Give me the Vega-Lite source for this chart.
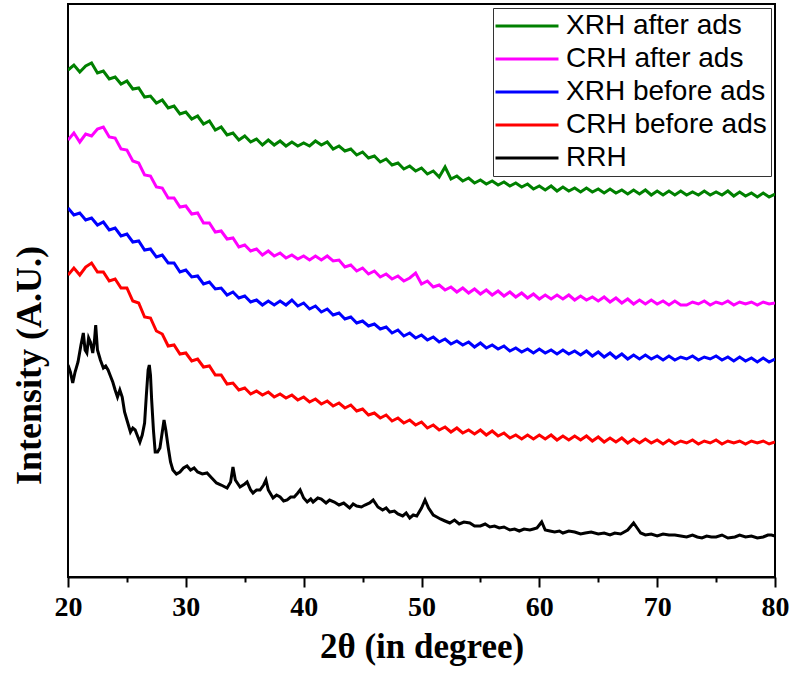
{
  "$schema": "https://vega.github.io/schema/vega-lite/v6.json",
  "width": 707,
  "height": 573,
  "autosize": "none",
  "padding": {"left": 68, "top": 4, "right": 17, "bottom": 97},
  "background": "white",
  "config": {
    "view": {"stroke": "black", "strokeWidth": 2},
    "legend": {"labelFont": "Liberation Sans", "labelFontSize": 28, "labelColor": "black", "labelLimit": 400}
  },
  "resolve": {"axis": {"x": "independent"}},
  "layer": [
    {
      "data": {"values": [
        {"x":20,"g":507,"m":437,"b":369,"r":302},{"x":20.5,"g":512,"m":444,"b":362,"r":309},{"x":21,"g":505,"m":435,"b":364,"r":302},{"x":21.5,"g":511,"m":443,"b":357,"r":310},{"x":22,"g":514,"m":441,"b":359,"r":314},{"x":22.5,"g":504,"m":448,"b":352,"r":305},{"x":23,"g":506,"m":450,"b":355,"r":305},{"x":23.5,"g":498,"m":440,"b":347,"r":296},{"x":24,"g":500,"m":439,"b":349,"r":298},{"x":24.5,"g":493,"m":428,"b":341,"r":289},
        {"x":25,"g":496,"m":427,"b":343,"r":289},{"x":25.5,"g":488,"m":416,"b":335,"r":276},{"x":26,"g":489,"m":414,"b":336,"r":274},{"x":26.5,"g":480,"m":402,"b":327,"r":260},{"x":27,"g":481,"m":401,"b":328,"r":259},{"x":27.5,"g":474,"m":390,"b":320,"r":246},{"x":28,"g":477,"m":389,"b":322,"r":243},{"x":28.5,"g":469,"m":379,"b":314,"r":231},{"x":29,"g":471,"m":379,"b":314,"r":232},{"x":29.5,"g":463,"m":370,"b":305,"r":223},
        {"x":30,"g":465,"m":371,"b":307,"r":224},{"x":30.5,"g":458,"m":363,"b":300,"r":216},{"x":31,"g":461,"m":364,"b":301,"r":218},{"x":31.5,"g":453,"m":354,"b":293,"r":210},{"x":32,"g":456,"m":354,"b":295,"r":211},{"x":32.5,"g":447,"m":345,"b":288,"r":202},{"x":33,"g":450,"m":346,"b":289,"r":202},{"x":33.5,"g":442,"m":338,"b":282,"r":193},{"x":34,"g":444,"m":339,"b":285,"r":194},{"x":34.5,"g":437,"m":330,"b":279,"r":187},
        {"x":35,"g":441,"m":332,"b":281,"r":189},{"x":35.5,"g":435,"m":326,"b":275,"r":183},{"x":36,"g":438,"m":328,"b":277,"r":186},{"x":36.5,"g":432,"m":322,"b":272,"r":182},{"x":37,"g":437,"m":326,"b":276,"r":185},{"x":37.5,"g":432,"m":321,"b":272,"r":180},{"x":38,"g":436,"m":324,"b":276,"r":183},{"x":38.5,"g":431,"m":319,"b":272,"r":179},{"x":39,"g":435,"m":322,"b":277,"r":182},{"x":39.5,"g":431,"m":318,"b":271,"r":177},
        {"x":40,"g":434,"m":321,"b":274,"r":180},{"x":40.5,"g":431,"m":317,"b":268,"r":175},{"x":41,"g":436,"m":321,"b":271,"r":178},{"x":41.5,"g":432,"m":317,"b":265,"r":173},{"x":42,"g":435,"m":321,"b":268,"r":176},{"x":42.5,"g":428,"m":316,"b":262,"r":171},{"x":43,"g":431,"m":317,"b":264,"r":174},{"x":43.5,"g":426,"m":310,"b":258,"r":169},{"x":44,"g":428,"m":312,"b":260,"r":172},{"x":44.5,"g":422,"m":306,"b":254,"r":166},
        {"x":45,"g":425,"m":309,"b":256,"r":168},{"x":45.5,"g":419,"m":303,"b":251,"r":162},{"x":46,"g":421,"m":306,"b":253,"r":164},{"x":46.5,"g":415,"m":300,"b":248,"r":159},{"x":47,"g":418,"m":303,"b":250,"r":162},{"x":47.5,"g":412,"m":298,"b":244,"r":156},{"x":48,"g":414,"m":301,"b":247,"r":159},{"x":48.5,"g":408,"m":296,"b":241,"r":154},{"x":49,"g":411,"m":299,"b":244,"r":157},{"x":49.5,"g":406,"m":304,"b":239,"r":152},
        {"x":50,"g":409,"m":293,"b":242,"r":155},{"x":50.5,"g":403,"m":296,"b":237,"r":149},{"x":51,"g":406,"m":290,"b":240,"r":152},{"x":51.5,"g":400,"m":292,"b":235,"r":147},{"x":52,"g":410,"m":287,"b":238,"r":150},{"x":52.5,"g":398,"m":290,"b":233,"r":145},{"x":53,"g":401,"m":285,"b":236,"r":149},{"x":53.5,"g":396,"m":289,"b":232,"r":144},{"x":54,"g":399,"m":284,"b":235,"r":147},{"x":54.5,"g":394,"m":288,"b":230,"r":143},
        {"x":55,"g":397,"m":283,"b":234,"r":147},{"x":55.5,"g":393,"m":287,"b":229,"r":142},{"x":56,"g":396,"m":282,"b":232,"r":146},{"x":56.5,"g":392,"m":286,"b":228,"r":141},{"x":57,"g":395,"m":281,"b":231,"r":144},{"x":57.5,"g":391,"m":285,"b":226,"r":139},{"x":58,"g":394,"m":280,"b":229,"r":142},{"x":58.5,"g":390,"m":284,"b":225,"r":138},{"x":59,"g":393,"m":279,"b":228,"r":142},{"x":59.5,"g":388,"m":283,"b":224,"r":138},
        {"x":60,"g":391,"m":278,"b":228,"r":142},{"x":60.5,"g":387,"m":282,"b":224,"r":138},{"x":61,"g":391,"m":278,"b":227,"r":142},{"x":61.5,"g":386,"m":282,"b":223,"r":137},{"x":62,"g":390,"m":278,"b":227,"r":141},{"x":62.5,"g":386,"m":282,"b":223,"r":137},{"x":63,"g":389,"m":277,"b":226,"r":141},{"x":63.5,"g":385,"m":281,"b":222,"r":137},{"x":64,"g":389,"m":277,"b":226,"r":141},{"x":64.5,"g":385,"m":280,"b":221,"r":136},
        {"x":65,"g":388,"m":276,"b":225,"r":140},{"x":65.5,"g":384,"m":280,"b":220,"r":135},{"x":66,"g":388,"m":275,"b":224,"r":139},{"x":66.5,"g":384,"m":279,"b":219,"r":135},{"x":67,"g":387,"m":274,"b":223,"r":139},{"x":67.5,"g":383,"m":278,"b":218,"r":134},{"x":68,"g":387,"m":273,"b":222,"r":138},{"x":68.5,"g":383,"m":277,"b":218,"r":134},{"x":69,"g":387,"m":273,"b":222,"r":138},{"x":69.5,"g":382,"m":277,"b":218,"r":134},
        {"x":70,"g":386,"m":273,"b":221,"r":137},{"x":70.5,"g":382,"m":276,"b":217,"r":133},{"x":71,"g":386,"m":272,"b":221,"r":137},{"x":71.5,"g":382,"m":276,"b":217,"r":133},{"x":72,"g":386,"m":272,"b":220,"r":136},{"x":72.5,"g":382,"m":272,"b":218,"r":134},{"x":73,"g":385,"m":275,"b":221,"r":137},{"x":73.5,"g":382,"m":273,"b":217,"r":133},{"x":74,"g":386,"m":276,"b":220,"r":136},{"x":74.5,"g":382,"m":272,"b":218,"r":134},
        {"x":75,"g":385,"m":275,"b":221,"r":137},{"x":75.5,"g":382,"m":273,"b":217,"r":133},{"x":76,"g":386,"m":276,"b":220,"r":136},{"x":76.5,"g":381,"m":272,"b":216,"r":134},{"x":77,"g":385,"m":275,"b":220,"r":136},{"x":77.5,"g":381,"m":273,"b":216,"r":133},{"x":78,"g":384,"m":275,"b":219,"r":136},{"x":78.5,"g":380,"m":272,"b":215,"r":134},{"x":79,"g":384,"m":275,"b":219,"r":136},{"x":79.5,"g":380,"m":273,"b":215,"r":133},
        {"x":80,"g":383,"m":274,"b":218,"r":135},
        {"x":20,"k":212},{"x":20.2,"k":205},{"x":20.4,"k":194},{"x":20.6,"k":205},{"x":20.85,"k":215},{"x":21.1,"k":232},{"x":21.3,"k":244},{"x":21.45,"k":227},{"x":21.6,"k":224},{"x":21.75,"k":239},{"x":21.9,"k":235},{"x":22.1,"k":224},{"x":22.25,"k":237},{"x":22.35,"k":252},{"x":22.5,"k":227},{"x":22.75,"k":217},{"x":23,"k":209},{"x":23.2,"k":211},{"x":23.4,"k":207},{"x":23.6,"k":201},{"x":23.8,"k":195},{"x":24,"k":187},{"x":24.2,"k":180},{"x":24.4,"k":187},{"x":24.6,"k":180},{"x":24.8,"k":165},{"x":25,"k":157},{"x":25.3,"k":145},{"x":25.5,"k":149},{"x":25.7,"k":147},{"x":25.9,"k":141},{"x":26.1,"k":135},{"x":26.3,"k":142},{"x":26.5,"k":154},{"x":26.65,"k":182},{"x":26.8,"k":207},{"x":26.9,"k":212},{"x":27,"k":202},{"x":27.1,"k":177},{"x":27.25,"k":147},{"x":27.4,"k":125},{"x":27.6,"k":125},{"x":27.8,"k":129},{"x":28,"k":145},{"x":28.15,"k":157},{"x":28.3,"k":147},{"x":28.5,"k":130},{"x":28.7,"k":115},{"x":28.9,"k":107},{"x":29.2,"k":103},{"x":29.5,"k":105},{"x":29.8,"k":109},{"x":30.1,"k":111},{"x":30.4,"k":107},{"x":30.7,"k":109},{"x":31,"k":105},{"x":31.4,"k":103},{"x":31.8,"k":104},{"x":32.2,"k":99},{"x":32.6,"k":94},{"x":33,"k":92},{"x":33.5,"k":89},{"x":33.8,"k":95},{"x":34,"k":110},{"x":34.2,"k":97},{"x":34.6,"k":90},{"x":35,"k":93},{"x":35.2,"k":95},{"x":35.5,"k":87},{"x":35.7,"k":84},{"x":36,"k":87},{"x":36.3,"k":87},{"x":36.6,"k":92},{"x":36.8,"k":97},{"x":37,"k":87},{"x":37.4,"k":79},{"x":37.7,"k":82},{"x":38,"k":80},{"x":38.3,"k":76},{"x":38.6,"k":77},{"x":38.9,"k":80},{"x":39.2,"k":80},{"x":39.5,"k":84},{"x":39.7,"k":87},{"x":40,"k":79},{"x":40.3,"k":75},{"x":40.6,"k":78},{"x":40.8,"k":75},{"x":41.2,"k":79},{"x":41.5,"k":78},{"x":41.9,"k":74},{"x":42.2,"k":77},{"x":42.6,"k":75},{"x":43,"k":72},{"x":43.4,"k":74},{"x":43.9,"k":69},{"x":44.2,"k":73},{"x":44.5,"k":71},{"x":44.9,"k":70},{"x":45.2,"k":72},{"x":45.6,"k":74},{"x":45.9,"k":77},{"x":46.3,"k":70},{"x":46.7,"k":67},{"x":47,"k":69},{"x":47.3,"k":65},{"x":47.7,"k":66},{"x":48,"k":63},{"x":48.4,"k":61},{"x":48.7,"k":64},{"x":49,"k":59},{"x":49.3,"k":62},{"x":49.6,"k":61},{"x":50,"k":69},{"x":50.3,"k":77},{"x":50.6,"k":69},{"x":51,"k":62},{"x":51.3,"k":60},{"x":51.6,"k":58},{"x":52,"k":56},{"x":52.4,"k":54},{"x":52.8,"k":57},{"x":53.2,"k":53},{"x":53.6,"k":55},{"x":54.1,"k":54},{"x":54.5,"k":51},{"x":55,"k":51},{"x":55.4,"k":53},{"x":55.8,"k":50},{"x":56.2,"k":51},{"x":56.6,"k":49},{"x":57,"k":50},{"x":57.5,"k":47},{"x":57.9,"k":48},{"x":58.3,"k":46},{"x":58.7,"k":48},{"x":59.2,"k":47},{"x":59.5,"k":48},{"x":59.8,"k":49},{"x":60.2,"k":55},{"x":60.5,"k":47},{"x":60.9,"k":46},{"x":61.3,"k":45},{"x":61.7,"k":46},{"x":62,"k":44},{"x":62.5,"k":46},{"x":63,"k":45},{"x":63.5,"k":43},{"x":63.9,"k":44},{"x":64.4,"k":45},{"x":65,"k":43},{"x":65.5,"k":44},{"x":66,"k":42},{"x":66.4,"k":44},{"x":66.9,"k":43},{"x":67.5,"k":47},{"x":68,"k":54},{"x":68.3,"k":49},{"x":68.6,"k":44},{"x":69,"k":42},{"x":69.5,"k":43},{"x":70,"k":41},{"x":70.5,"k":43},{"x":71,"k":42},{"x":71.5,"k":42},{"x":72,"k":41},{"x":72.5,"k":40},{"x":73,"k":42},{"x":73.4,"k":40},{"x":73.8,"k":39},{"x":74.2,"k":41},{"x":74.6,"k":40},{"x":75,"k":40},{"x":75.5,"k":42},{"x":76,"k":39},{"x":76.6,"k":40},{"x":77,"k":42},{"x":77.5,"k":40},{"x":78,"k":41},{"x":78.5,"k":39},{"x":79,"k":40},{"x":79.4,"k":42},{"x":79.7,"k":42},{"x":80,"k":41}
      ]},
      "transform": [
        {"fold": ["g", "m", "b", "r", "k"], "as": ["s", "v"]},
        {"filter": "isValid(datum.v)"}
      ],
      "mark": {"type": "line", "strokeWidth": 3, "clip": true},
      "encoding": {
        "x": {
          "field": "x", "type": "quantitative",
          "scale": {"domain": [20, 80], "nice": false, "zero": false},
          "axis": {
            "orient": "bottom",
            "values": [20, 30, 40, 50, 60, 70, 80],
            "title": "2θ (in degree)",
            "grid": false,
            "labelFont": "Liberation Serif", "labelFontWeight": "bold", "labelFontSize": 28, "labelColor": "black",
            "labelPadding": 6, "labelFlush": false,
            "tickColor": "black", "tickWidth": 2, "tickSize": 10,
            "domainColor": "black", "domainWidth": 2,
            "titleFont": "Liberation Serif", "titleFontWeight": "bold", "titleFontSize": 35, "titleColor": "black",
            "titlePadding": 8
          }
        },
        "y": {
          "field": "v", "type": "quantitative",
          "scale": {"domain": [0, 573], "nice": false, "zero": false},
          "axis": {
            "title": "Intensity (A.U.)",
            "labels": false, "ticks": false, "domain": false, "grid": false,
            "titleFont": "Liberation Serif", "titleFontWeight": "bold", "titleFontSize": 36, "titleColor": "black",
            "titlePadding": 20, "titleY": 361
          }
        },
        "color": {
          "field": "s", "type": "nominal",
          "scale": {"domain": ["g", "m", "b", "r", "k"], "range": ["#008000", "#ff00ff", "#0000ff", "#ff0000", "#000000"]},
          "legend": {
            "title": null,
            "orient": "top-right",
            "offset": 4,
            "labelExpr": "{'g': 'XRH after ads', 'm': 'CRH after ads', 'b': 'XRH before ads', 'r': 'CRH before ads', 'k': 'RRH'}[datum.value]",
            "labelLimit": 400,
            "symbolType": "M-8,0H8",
            "symbolSize": 62,
            "symbolStrokeWidth": 3,
            "symbolOffset": 16,
            "labelOffset": 25,
            "rowPadding": 5,
            "padding": 4,
            "strokeColor": "#333333",
            "fillColor": "white"
          }
        }
      }
    },
    {
      "data": {"values": [{"t": 25}, {"t": 35}, {"t": 45}, {"t": 55}, {"t": 65}, {"t": 75}]},
      "mark": {"type": "rule", "opacity": 0},
      "encoding": {
        "x": {
          "field": "t", "type": "quantitative",
          "scale": {"domain": [20, 80], "nice": false, "zero": false},
          "axis": {
            "orient": "bottom",
            "values": [25, 35, 45, 55, 65, 75],
            "labels": false, "title": null, "domain": false, "grid": false,
            "tickColor": "black", "tickWidth": 2, "tickSize": 5
          }
        }
      }
    }
  ]
}
